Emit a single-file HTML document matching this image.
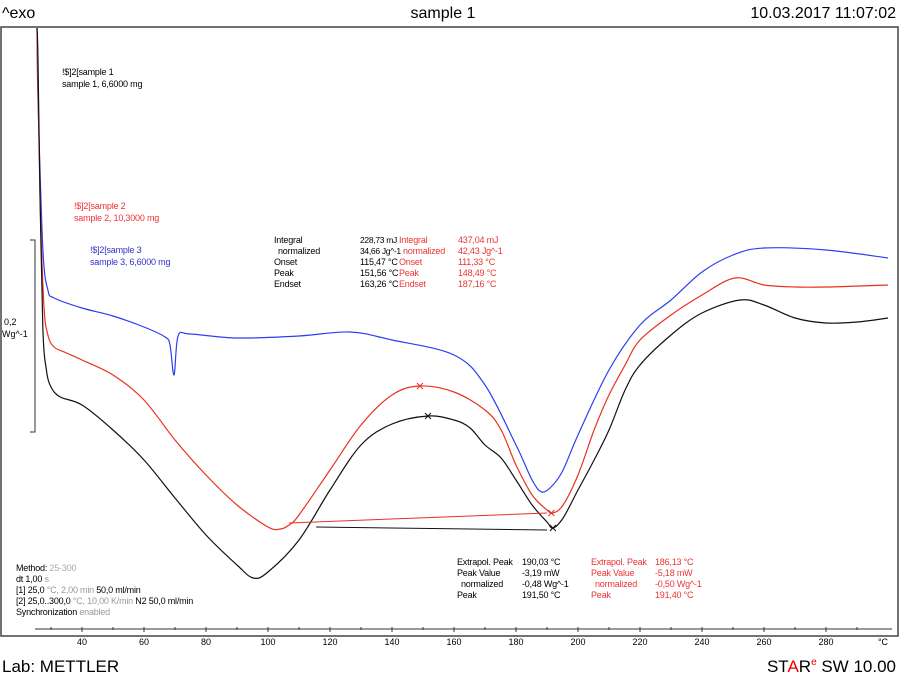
<!DOCTYPE html>
<html><head><meta charset="utf-8"><style>
body{margin:0;width:900px;height:679px;background:#fff;overflow:hidden;font-family:"Liberation Sans",sans-serif;}
svg{position:absolute;left:0;top:0}
.t{font-size:9px;letter-spacing:-0.2px}
.s{font-size:8.5px;letter-spacing:-0.3px}
</style></head><body>
<svg width="900" height="679" font-family="Liberation Sans, sans-serif">
<text x="2" y="18" font-size="16">^exo</text>
<text x="443" y="18" font-size="16" text-anchor="middle">sample 1</text>
<text x="896" y="18" font-size="16" text-anchor="end">10.03.2017 11:07:02</text>
<rect x="1" y="27" width="897" height="609" fill="none" stroke="#444" stroke-width="1.5"/>
<text x="2" y="672" font-size="17">Lab: METTLER</text>
<text x="896" y="672" font-size="17" text-anchor="end">ST<tspan fill="#e00">A</tspan>R<tspan fill="#e00" font-size="10" dy="-7">e</tspan><tspan dy="7"> SW 10.00</tspan></text>
<g id="axis"></g>
<path d="M30 240 H35 V432 H30" fill="none" stroke="#333"/>
<text x="4" y="325" font-size="9">0,2</text>
<text x="2" y="337" font-size="9">Wg^-1</text>
<g id="curves"></g>
<g class="t">
<text x="62" y="75">!$]2[sample 1</text><text x="62" y="87">sample 1, 6,6000 mg</text>
<text x="74" y="209" fill="#e33">!$]2[sample 2</text><text x="74" y="221" fill="#e33">sample 2, 10,3000 mg</text>
<text x="90" y="253" fill="#33c">!$]2[sample 3</text><text x="90" y="265" fill="#33c">sample 3, 6,6000 mg</text>
</g>
<g class="t">
<text x="274" y="243">Integral</text><text x="360" y="243" class="s">228,73 mJ</text>
<text x="278" y="254">normalized</text><text x="360" y="254" class="s">34,66 Jg^-1</text>
<text x="274" y="265">Onset</text><text x="360" y="265">115,47 °C</text>
<text x="274" y="276">Peak</text><text x="360" y="276">151,56 °C</text>
<text x="274" y="287">Endset</text><text x="360" y="287">163,26 °C</text>
<g fill="#e33">
<text x="399" y="243">Integral</text><text x="458" y="243">437,04 mJ</text>
<text x="403" y="254">normalized</text><text x="458" y="254">42,43 Jg^-1</text>
<text x="399" y="265">Onset</text><text x="458" y="265">111,33 °C</text>
<text x="399" y="276">Peak</text><text x="458" y="276">148,49 °C</text>
<text x="399" y="287">Endset</text><text x="458" y="287">187,16 °C</text></g>
</g>
<g class="t">
<text x="457" y="565">Extrapol. Peak</text><text x="522" y="565">190,03 °C</text>
<text x="457" y="576">Peak Value</text><text x="522" y="576">-3,19 mW</text>
<text x="461" y="587">normalized</text><text x="522" y="587">-0,48 Wg^-1</text>
<text x="457" y="598">Peak</text><text x="522" y="598">191,50 °C</text>
<g fill="#e33">
<text x="591" y="565">Extrapol. Peak</text><text x="655" y="565">186,13 °C</text>
<text x="591" y="576">Peak Value</text><text x="655" y="576">-5,18 mW</text>
<text x="595" y="587">normalized</text><text x="655" y="587">-0,50 Wg^-1</text>
<text x="591" y="598">Peak</text><text x="655" y="598">191,40 °C</text></g>
</g>
<g class="t">
<text x="16" y="571">Method: <tspan fill="#aaa">25-300</tspan></text>
<text x="16" y="582">dt 1,00 <tspan fill="#999">s</tspan></text>
<text x="16" y="593">[1] 25,0 <tspan fill="#999">°C, 2,00 min</tspan> 50,0 ml/min</text>
<text x="16" y="604">[2] 25,0..300,0 <tspan fill="#999">°C, 10,00 K/min</tspan>  N2 50,0 ml/min</text>
<text x="16" y="615">Synchronization <tspan fill="#999">enabled</tspan></text>
</g>
</svg>
<script>
const ticksMajor=[40,60,80,100,120,140,160,180,200,220,240,260,280];
const sample1=[[25.5,59.2],[25.8,56],[26.5,42],[27.4,29],[28.5,25],[30,23.3],[33,22.3],[40,21.5],[50,19],[60,16],[70,12.2],[80,8.5],[90,5.5],[95.2,4.2],[100,4.8],[110,8],[120,13],[130,17.5],[140,19.6],[151.6,20.4],[160,20],[165.2,19.2],[170,17.5],[175.2,16.2],[180,14],[185.2,11.5],[190,9.8],[191.9,9.2],[195.2,10.2],[200,13],[205.2,16],[210,19],[215.2,23],[220,25.5],[230,28.5],[240,30.7],[252.3,32],[260,31.5],[270,30.2],[280,29.7],[290,29.8],[300,30.2]];
const sample2=[[25.5,59.2],[26.5,42],[27.7,31.5],[29,28.5],[31,27.3],[35,26.7],[40,26],[50,24.5],[60,22],[70,18],[80,14.5],[90,11.5],[100,9.3],[104,9.1],[106.8,9.5],[110,10.5],[120,15],[130,19.5],[140,22.5],[149,23.4],[160,22.8],[170,21],[175.2,19],[180,15.5],[185.2,12.5],[190,11],[191.9,10.7],[195.2,11.5],[200,14.5],[205.2,19],[210,22.5],[215.2,25.5],[220,28],[230,30.5],[240,32.5],[250.6,34.2],[260,33.5],[270,33.3],[280,33.3],[300,33.5]];
const sample3=[[25.5,59.2],[25.8,52],[27.4,37],[29,33],[31,32.2],[40,31.2],[50,30.4],[60,29.3],[66.8,28.3],[68.4,27.5],[69.7,24.5],[71,28.4],[74.8,28.6],[90,28.2],[110,28.4],[126.5,28.8],[140,28],[160,26.5],[170,23.5],[180,17.5],[185.2,14],[188.4,12.8],[191.9,13.5],[195.2,15],[200,18.5],[210,25],[220,29.5],[230,32],[240,34.8],[250,36.5],[260,37.2],[280,37],[300,36.2]];
const baseline1=[[115.5,9.3],[190,9]];
const baseline2=[[106.8,9.7],[190,10.7]];
const peaks1=[[151.6,20.4],[191.9,9.2]];
const peaks2=[[149,23.4],[191.4,10.7]];
const NS="http://www.w3.org/2000/svg";
const X=t=>82+(t-40)*3.1, Y=v=>620-v*10;
const ax=document.getElementById('axis');
function mk(tag,attrs,parent){const e=document.createElementNS(NS,tag);for(const k in attrs)e.setAttribute(k,attrs[k]);parent.appendChild(e);return e;}
mk('line',{x1:35,x2:892,y1:629,y2:629,stroke:'#333'},ax);
for(let t=30;t<=290;t+=10){mk('line',{x1:X(t),x2:X(t),y1:627,y2:ticksMajor.includes(t)?632:630,stroke:'#333'},ax);}
ticksMajor.forEach(t=>{const e=mk('text',{x:X(t),y:645,'font-size':9,'text-anchor':'middle'},ax);e.textContent=t;

});
const u=mk('text',{x:883,y:645,'font-size':9,'text-anchor':'middle'},ax);u.textContent='°C';
const g=document.getElementById('curves');
function smooth(d){const P=d.map(p=>[X(p[0]),Y(p[1])]);let s='M'+P[0][0].toFixed(1)+' '+P[0][1].toFixed(1);
for(let i=0;i<P.length-1;i++){const p0=P[i-1]||P[i],p1=P[i],p2=P[i+1],p3=P[i+2]||p2;
const c1=[p1[0]+(p2[0]-p0[0])/6,p1[1]+(p2[1]-p0[1])/6],c2=[p2[0]-(p3[0]-p1[0])/6,p2[1]-(p3[1]-p1[1])/6];
s+=`C${c1[0].toFixed(1)} ${c1[1].toFixed(1)} ${c2[0].toFixed(1)} ${c2[1].toFixed(1)} ${p2[0].toFixed(1)} ${p2[1].toFixed(1)}`;}return s;}
function line(d,c,name,w){const p=mk('path',{d:smooth(d),fill:'none',stroke:c,'stroke-width':w||1.2,'stroke-linejoin':'round'},g);

}
line(sample3,'#2b3ff0','curve-sample-3');
line(sample2,'#e8321e','curve-sample-2');
line(sample1,'#111','curve-sample-1');
line(baseline1,'#111','baseline-sample-1',1);
line(baseline2,'#e8321e','baseline-sample-2',1);
function cross(p,c){const x=X(p[0]),y=Y(p[1]);const e=mk('path',{d:`M${x-3} ${y-3}L${x+3} ${y+3}M${x-3} ${y+3}L${x+3} ${y-3}`,stroke:c,'stroke-width':1},g);

}
peaks1.forEach(p=>cross(p,'#111'));peaks2.forEach(p=>cross(p,'#e8321e'));
</script>
</body></html>
